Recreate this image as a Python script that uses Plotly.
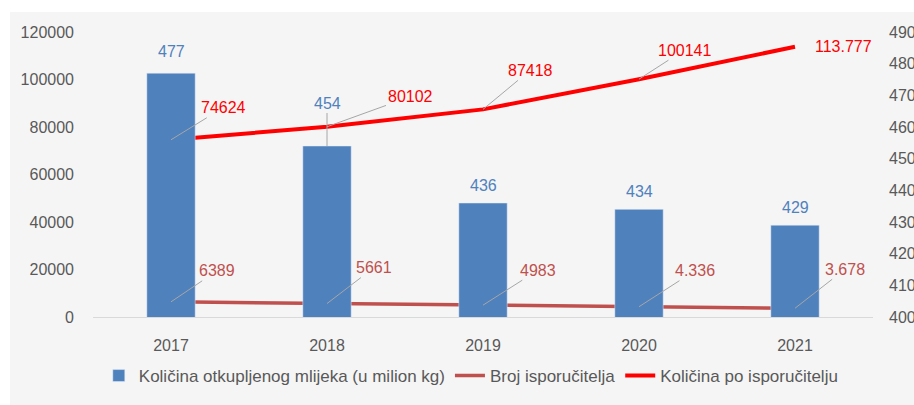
import plotly.graph_objects as go

# Podaci očitani s grafa
godine = ["2017", "2018", "2019", "2020", "2021"]
kolicina_otkup = [477, 454, 436, 434, 429]            # desna os (u milion kg)
broj_isporucitelja = [6389, 5661, 4983, 4336, 3678]   # lijeva os
kolicina_po_isp = [74624, 80102, 87418, 100141, 113777]  # lijeva os

lbl_broj = ["6389", "5661", "4983", "4.336", "3.678"]
lbl_po_isp = ["74624", "80102", "87418", "100141", "113.777"]

BLUE = "#4F81BD"
DARK_RED = "#C0504D"
RED = "#FF0000"
GRAY_TXT = "#595959"
LEADER = "#A6A6A6"
FONT = "Liberation Sans, Arial, sans-serif"
LBL = 16

fig = go.Figure()

fig.add_trace(
    go.Bar(
        x=godine,
        y=kolicina_otkup,
        yaxis="y2",
        marker={"color": BLUE},
        name="Količina otkupljenog mlijeka (u milion kg)",
    )
)
fig.add_trace(
    go.Scatter(
        x=godine,
        y=broj_isporucitelja,
        mode="lines",
        line={"color": DARK_RED, "width": 3.5},
        name="Broj isporučitelja",
    )
)
fig.add_trace(
    go.Scatter(
        x=godine,
        y=kolicina_po_isp,
        mode="lines",
        line={"color": RED, "width": 4},
        name="Količina po isporučitelju",
    )
)

# pomaci oznaka (px) od točke
bar_off = [(0, -22), (0, -43), (0, -18), (0, -18), (0, -18)]
po_isp_off = [(52, -32), (83, -30), (47, -39), (45, -29), None]
broj_off = [(46, -31), (47, -36), (55, -35), (56, -36), (50, -39)]

# na kategorijskoj osi oznake se smještaju po indeksu kategorije
annotations = []
for i, (v, off) in enumerate(zip(kolicina_otkup, bar_off)):
    annotations.append(
        dict(
            x=i, y=v, xref="x", yref="y2", text=str(v),
            showarrow=off[1] < -30, arrowhead=0, arrowwidth=1, arrowcolor=LEADER,
            ax=off[0], ay=off[1], yshift=0 if off[1] < -30 else -off[1],
            font={"color": BLUE, "size": LBL, "family": FONT},
        )
    )
for i, (v, t, off) in enumerate(zip(kolicina_po_isp, lbl_po_isp, po_isp_off)):
    if off is None:
        annotations.append(
            dict(
                x=i, y=v, xref="x", yref="y", text=t, showarrow=False,
                xanchor="left", xshift=18,
                font={"color": RED, "size": LBL, "family": FONT},
            )
        )
        continue
    annotations.append(
        dict(
            x=i, y=v, xref="x", yref="y", text=t,
            showarrow=True, arrowhead=0, arrowwidth=1, arrowcolor=LEADER,
            ax=off[0], ay=off[1],
            font={"color": RED, "size": LBL, "family": FONT},
        )
    )
for i, (v, t, off) in enumerate(zip(broj_isporucitelja, lbl_broj, broj_off)):
    annotations.append(
        dict(
            x=i, y=v, xref="x", yref="y", text=t,
            showarrow=True, arrowhead=0, arrowwidth=1, arrowcolor=LEADER,
            ax=off[0], ay=off[1],
            font={"color": DARK_RED, "size": LBL, "family": FONT},
        )
    )

fig.update_layout(
    width=914,
    height=405,
    margin={"l": 93, "r": 41, "t": 32, "b": 87},
    paper_bgcolor="white",
    plot_bgcolor="#F5F5F5",
    font={"family": FONT, "size": 16, "color": GRAY_TXT},
    bargap=0.69,
    showlegend=True,
    legend={
        "orientation": "h",
        "x": 0.485,
        "xanchor": "center",
        "y": -0.14,
        "yanchor": "top",
        "font": {"size": 17, "color": GRAY_TXT},
        "bgcolor": "rgba(0,0,0,0)",
        "traceorder": "normal",
    },
    xaxis={
        "type": "category",
        "range": [-0.5, 4.5],
        "showgrid": False,
        "showline": True,
        "linecolor": "#D9D9D9",
        "ticks": "",
        "ticklabelstandoff": 14,
        "automargin": False,
    },
    yaxis={
        "range": [0, 120000],
        "dtick": 20000,
        "tickformat": "d",
        "showgrid": False,
        "zeroline": False,
        "ticklabelstandoff": 18,
        "automargin": False,
    },
    yaxis2={
        "range": [400, 490],
        "dtick": 10,
        "overlaying": "y",
        "side": "right",
        "showgrid": False,
        "zeroline": False,
        "ticklabelstandoff": 15,
        "automargin": False,
    },
    annotations=annotations,
    shapes=[
        dict(
            type="rect", xref="paper", yref="paper", layer="below",
            x0=-0.1064, x1=1.3, y0=-0.6, y1=1.07,
            fillcolor="#F5F5F5", line_width=0,
        )
    ],
)

fig.write_html(
    "out.html",
    config={"displayModeBar": False},
    post_script="document.body.style.margin='0';document.body.style.overflow='hidden';",
)
